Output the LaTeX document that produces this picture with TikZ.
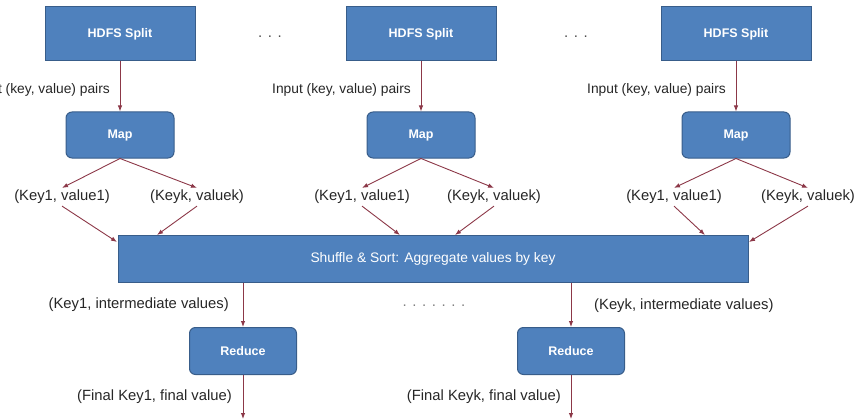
\documentclass[tikz,border=0pt]{standalone}
\usepackage{fontspec}
\setmainfont{Liberation Sans}
\usetikzlibrary{arrows.meta,calc,positioning}

\definecolor{boxblue}{RGB}{79,129,189}
\definecolor{boxedge}{RGB}{56,93,138}
\definecolor{arrowred}{RGB}{140,56,72}

\begin{document}
\begin{tikzpicture}[
    x=1pt, y=-1pt,
    splitbox/.style={rectangle,draw=boxedge,fill=boxblue,line width=1pt,minimum width=150pt,minimum height=54pt,text=white,font=\fontsize{12.5}{15}\selectfont\bfseries},
    mapbox/.style={splitbox,rounded corners=6pt,minimum width=108pt,minimum height=46pt},
    pairlbl/.style={inner sep=2pt,text=black!85,font=\fontsize{14.8}{17}\selectfont},
    inlbl/.style={pairlbl,font=\fontsize{13.8}{16}\selectfont},
    dotlbl/.style={inner sep=0pt,text=black!70,font=\fontsize{15}{17}\selectfont},
    flow/.style={draw=arrowred,line width=0.9pt,-{Latex[length=6pt,width=4.5pt]}}
]
    \useasboundingbox (0,0) rectangle (863,420);

    % splits and maps
    \node[splitbox] (split1) at (120,34) {HDFS Split};
    \node[splitbox] (split2) at (421,34) {HDFS Split};
    \node[splitbox] (split3) at (736,34) {HDFS Split};
    \node[dotlbl] (gap1) at (270,37) {. . .};
    \node[dotlbl] (gap2) at (576,37) {. . .};

    \node[mapbox] (map1) at (120,135) {Map};
    \node[mapbox] (map2) at (421,135) {Map};
    \node[mapbox] (map3) at (736,135) {Map};

    \draw[flow] (split1) -- (map1);
    \draw[flow] (split2) -- (map2);
    \draw[flow] (split3) -- (map3);
    \node[inlbl,anchor=east] (in1) at (112,90) {Input (key, value) pairs};
    \node[inlbl,anchor=east] (in2) at (413,90) {Input (key, value) pairs};
    \node[inlbl,anchor=east] (in3) at (728,90) {Input (key, value) pairs};

    % intermediate pairs
    \node[pairlbl] (p11) at (62,197) {(Key1, value1)};
    \node[pairlbl] (p1k) at (197,197) {(Keyk, valuek)};
    \node[pairlbl] (p21) at (362,197) {(Key1, value1)};
    \node[pairlbl] (p2k) at (494,197) {(Keyk, valuek)};
    \node[pairlbl] (p31) at (674,197) {(Key1, value1)};
    \node[pairlbl] (p3k) at (808,197) {(Keyk, valuek)};

    \draw[flow] (map1.south) -- (p11.north);
    \draw[flow] (map1.south) -- (p1k.north);
    \draw[flow] (map2.south) -- (p21.north);
    \draw[flow] (map2.south) -- (p2k.north);
    \draw[flow] (map3.south) -- (p31.north);
    \draw[flow] (map3.south) -- (p3k.north);

    % shuffle
    \node[splitbox,minimum width=630pt,minimum height=47pt,font=\fontsize{13.8}{16}\selectfont] (shuffle) at (433,258.5) {Shuffle \& Sort: Aggregate values by key};
    \coordinate (s11) at (117,242);
    \coordinate (s1k) at (157,235);
    \coordinate (s21) at (400,235);
    \coordinate (s2k) at (455,235);
    \coordinate (s31) at (705,235);
    \coordinate (s3k) at (749,242);
    \draw[flow] (p11.south) -- (s11);
    \draw[flow] (p1k.south) -- (s1k);
    \draw[flow] (p21.south) -- (s21);
    \draw[flow] (p2k.south) -- (s2k);
    \draw[flow] (p31.south) -- (s31);
    \draw[flow] (p3k.south) -- (s3k);

    % reduces
    \node[mapbox,minimum width=107pt,minimum height=47pt] (red1) at (243,351) {Reduce};
    \node[mapbox,minimum width=107pt,minimum height=47pt] (red2) at (571,351) {Reduce};
    \draw[flow] (shuffle.south -| red1) -- (red1);
    \draw[flow] (shuffle.south -| red2) -- (red2);
    \node[pairlbl,anchor=east] (mid1) at (231,305) {(Key1, intermediate values)};
    \node[pairlbl,anchor=west] (midk) at (592,306) {(Keyk, intermediate values)};
    \node[dotlbl,text=black!50] (gap3) at (434,306) {. . . . . . .};

    \coordinate (out1) at (243,419);
    \coordinate (out2) at (571,419);
    \draw[flow] (red1) -- (out1);
    \draw[flow] (red2) -- (out2);
    \node[pairlbl,anchor=east] (fin1) at (234,397) {(Final Key1, final value)};
    \node[pairlbl,anchor=east] (fink) at (563,397) {(Final Keyk, final value)};

\end{tikzpicture}
\end{document}
